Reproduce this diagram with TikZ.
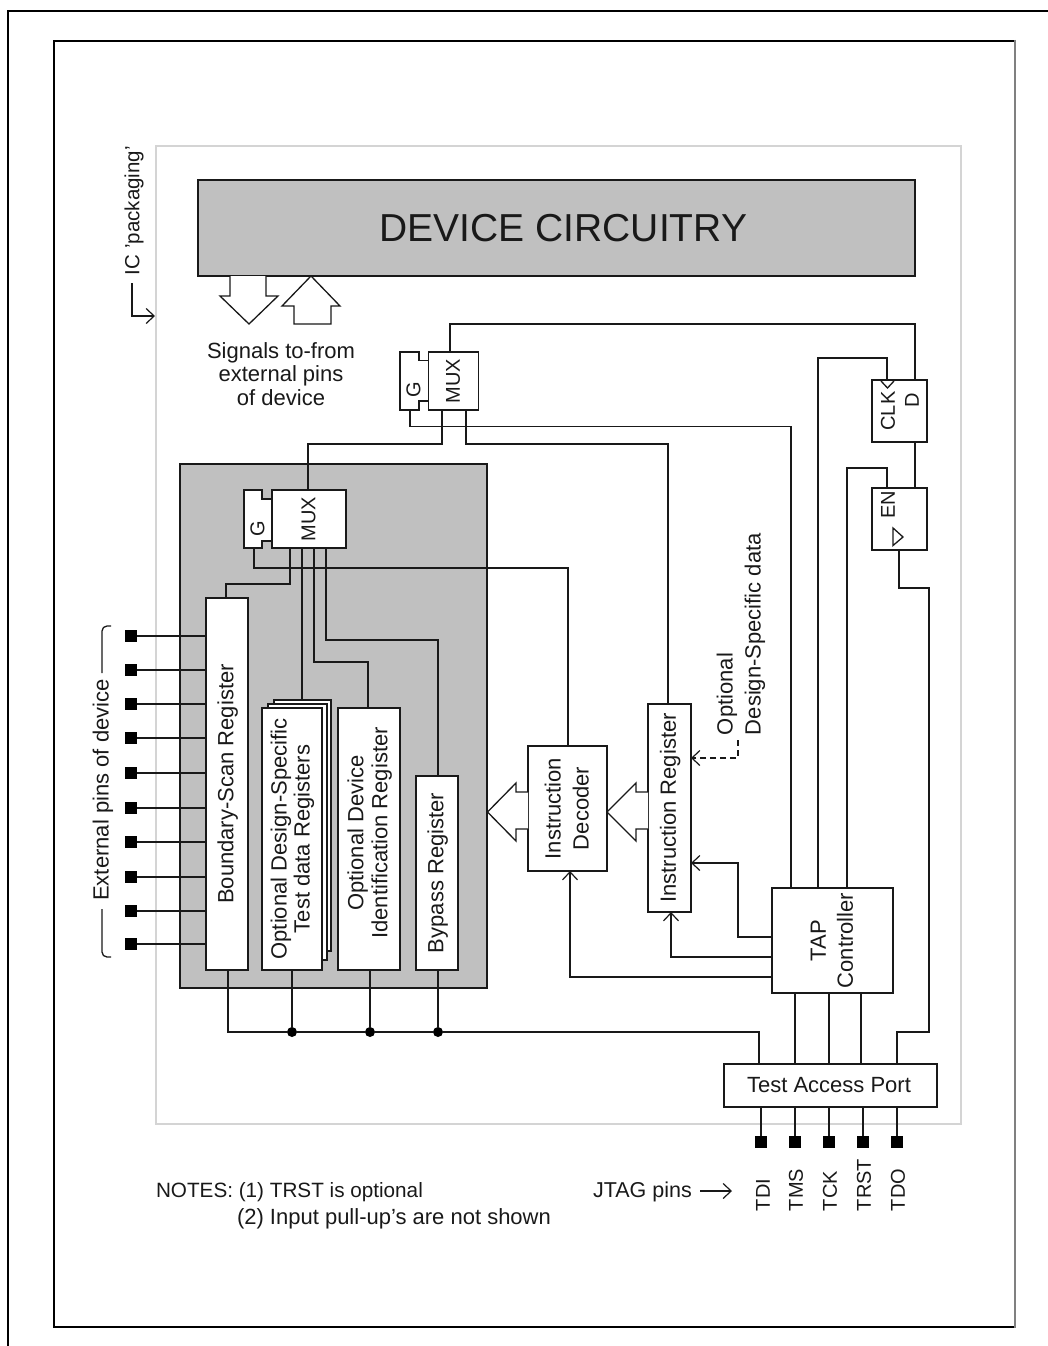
\documentclass[tikz,border=0pt]{standalone}
\usepackage{fontspec}
\usepackage{graphicx}
\setmainfont{Liberation Sans}
\usetikzlibrary{arrows.meta}
\definecolor{panelgray}{HTML}{C0C0C0}
\definecolor{pkggray}{HTML}{D4D4D4}
\definecolor{framegray}{HTML}{808080}
\newcommand{\rt}[2][1.0]{\hspace*{3pt}\rotatebox{90}{\def\arraystretch{#1}\begin{tabular}{@{}c@{}}#2\end{tabular}}}
\newcommand{\bx}[6]{\node[regbox,minimum width={#4-#2},minimum height={#5-#3}] (#1) at ({(#2+#4)/2},{(#3+#5)/2}) {#6};}
\newcommand{\capsize}{\fontsize{20}{24}\selectfont}
\tikzset{
  x=1pt,y=-1pt,
  every node/.style={font=\fontsize{22}{24}\selectfont,inner sep=0pt,outer sep=0pt,text=black!90},
  regbox/.style={draw=black!90,line width=1.8pt,fill=white,rectangle},
  wire/.style={draw=black!90,line width=1.8pt,line join=miter},
  dashwire/.style={wire,dash pattern=on 6pt off 4pt},
  openarrow/.style={-{Straight Barb[length=8pt,width=15pt,line width=1.2pt]}},
  blockarrow/.style={draw=black!90,line width=1.3pt,fill=white,line join=miter},
  outline/.style={draw=black!90,line width=1.8pt,fill=white,line join=miter},
  thinmark/.style={draw=black!90,line width=1.3pt,line join=miter},
  pinsq/.style={fill=black,rectangle,minimum size=12pt},
  dotn/.style={fill=black,circle,minimum size=10pt},
  vlabel/.style={rotate=90},
}
\begin{document}
\begin{tikzpicture}
\useasboundingbox (0,0) rectangle (1048,1346);
% frames
\draw[black,line width=2pt] (8,1346) -- (8,11) -- (1048,11);
\draw[black,line width=2pt] (1015,41) -- (54,41) -- (54,1327) -- (1015,1327);
\draw[framegray,line width=2pt] (1015,40) -- (1015,1328);
% package and panels
\draw[pkggray,line width=2pt] (156,146) rectangle (961,1124);
\node[draw=black!90,line width=1.8pt,fill=panelgray,rectangle,minimum width=717pt,minimum height=96pt,font=\fontsize{39}{44}\selectfont] (dev) at (556.5,228) {\hspace*{14pt}\raisebox{-1pt}{DEVICE CIRCUITRY}};
\node[draw=black!90,line width=1.8pt,fill=panelgray,rectangle,minimum width=307pt,minimum height=524pt] (core) at (333.5,726) {};
% block arrows at device
\draw[blockarrow] (230,276) -- (230,296) -- (220,296) -- (249,324) -- (278,296) -- (266,296) -- (266,276);
\draw[blockarrow] (311,276) -- (282,306) -- (294,306) -- (294,324) -- (331,324) -- (331,306) -- (340,306) -- cycle;
\node[align=center,font=\fontsize{22}{23.5}\selectfont] (sig) at (281,374) {Signals to-from\\external pins\\of device};
% IC packaging
\node[vlabel,anchor=west,font=\fontsize{20.5}{24}\selectfont] (icp) at (134,275) {IC 'packaging'};
\coordinate (icps) at (132,283);
\draw[thinmark,openarrow] (icps) -- (132,316) -- (155,316);
% boxes
\bx{mux1}{428.5}{352}{478.5}{410}{\capsize\rt{MUX}}
\bx{clk}{872}{380}{927}{442}{}
\bx{en}{872}{488}{927}{550}{}
\bx{mux2}{272}{490}{346}{548}{\capsize\rt{MUX}}
\bx{bsr}{206}{598}{248}{970}{\rt{Boundary-Scan Register}}
\bx{ds3}{274}{700}{331}{951}{}
\bx{ds2}{268}{704}{327}{960}{}
\bx{ds1}{262}{708}{322}{970}{\rt[0.96]{Optional Design-Specific\\Test data Registers}}
\bx{idr}{338}{708}{400}{970}{\hspace*{3pt}\rotatebox{90}{\hspace*{12pt}\begin{tabular}{@{}c@{}}Optional Device\\Identification Register\end{tabular}}}
\bx{byp}{416}{776}{458}{970}{\rt{Bypass Register}}
\bx{dec}{528}{746}{607}{871}{\rt[1.17]{Instruction\\Decoder}}
\bx{ir}{648}{704}{691}{912}{\rt{Instruction Register}}
\bx{tap}{772}{888}{893}{993}{\rt[1.12]{TAP\\Controller}}
\bx{port}{724}{1064}{937}{1107}{\hspace*{-3pt}\raisebox{-1pt}{Test Access Port}}
% G boxes
\draw[outline] (400,352) -- (419,352) -- (419,360.5) -- (428.5,360.5) -- (428.5,401) -- (419,401) -- (419,410) -- (400,410) -- cycle;
\draw[outline] (244,490) -- (262,490) -- (262,499) -- (272,499) -- (272,541) -- (262,541) -- (262,548) -- (244,548) -- cycle;
\node[vlabel,font=\capsize] (g1) at (413.5,390) {G};
\node[vlabel,font=\capsize] (g2) at (257.5,529) {G};
\coordinate (g1s) at (410,410);
\coordinate (g2s) at (254,548);
% flip-flop labels
\node[vlabel,font=\capsize] (clkt) at (888,411) {CLK};
\node[vlabel,font=\capsize] (dt) at (912,400) {D};
\node[vlabel,font=\capsize] (ent) at (888,505) {EN};
\draw[thinmark] (881,381) -- (887.5,388) -- (894,381);
\draw[thinmark] (893,528) -- (903,537) -- (893,545.5) -- cycle;
% connectors top
\draw[wire] (mux1.north -| 450,0) -- (450,324) -- (915,324) -- (clk.north -| 915,0);
\draw[wire] (g1s) -- (410,426.5) -- (791,426.5) -- (tap.north -| 791,0);
\draw[wire] (mux1.south -| 442,0) -- (442,444) -- (308,444) -- (mux2.north -| 308,0);
\draw[wire] (mux1.south -| 466,0) -- (466,444) -- (668,444) -- (ir.north -| 668,0);
\draw[wire] (g2s) -- (254,568) -- (568,568) -- (dec.north -| 568,0);
\draw[wire] (mux2.south -| 290,0) -- (290,584) -- (226,584) -- (bsr.north -| 226,0);
\draw[wire] (mux2.south -| 302,0) -- (ds3.north -| 302,0);
\draw[wire] (mux2.south -| 314,0) -- (314,662) -- (368,662) -- (idr.north -| 368,0);
\draw[wire] (mux2.south -| 326,0) -- (326,640) -- (438,640) -- (byp.north -| 438,0);
\draw[wire] (clk.south -| 915,0) -- (en.north -| 915,0);
\draw[wire] (tap.north -| 818,0) -- (818,358) -- (887,358) -- (clk.north -| 887,0);
\draw[wire] (tap.north -| 847,0) -- (847,468) -- (887,468) -- (en.north -| 887,0);
\draw[wire] (en.south -| 899,0) -- (899,588) -- (929,588) -- (929,1032) -- (897,1032) -- (port.north -| 897,0);
% register bottom bus
\node[dotn] (j1) at (292,1032) {};
\node[dotn] (j2) at (370,1032) {};
\node[dotn] (j3) at (438,1032) {};
\draw[wire] (bsr.south -| 228,0) -- (228,1032) -- (j1) -- (j2) -- (j3) -- (759,1032) -- (port.north -| 759,0);
\draw[wire] (ds1.south -| 292,0) -- (j1);
\draw[wire] (idr.south -| 370,0) -- (j2);
\draw[wire] (byp.south -| 438,0) -- (j3);
% TAP to port
\draw[wire] (tap.south -| 795,0) -- (port.north -| 795,0);
\draw[wire] (tap.south -| 829,0) -- (port.north -| 829,0);
\draw[wire] (tap.south -| 861,0) -- (port.north -| 861,0);
% TAP outputs
\draw[wire,openarrow] (tap.west |- 0,937) -- (738,937) -- (738,863) -- (ir.east |- 0,863);
\draw[wire,openarrow] (tap.west |- 0,957) -- (671,957) -- (ir.south -| 671,0);
\draw[wire,openarrow] (tap.west |- 0,977) -- (570,977) -- (dec.south -| 570,0);
% dashed input
\coordinate (dsrc) at (738,740);
\draw[dashwire,openarrow] (dsrc) -- (738,758) -- (ir.east |- 0,758);
\node[vlabel,anchor=west,align=left,font=\fontsize{22}{28}\selectfont] (optd) at (741,735) {Optional\\Design-Specific data};
% block arrows between registers
\draw[blockarrow] (dec.west |- 0,792) -- (516,792) -- (516,783) -- (487.5,812) -- (516,841) -- (516,829) -- (dec.west |- 0,829);
\draw[blockarrow] (ir.west |- 0,792) -- (636,792) -- (636,783) -- (607,812) -- (636,841) -- (636,829) -- (ir.west |- 0,829);
% external pins
\foreach \n/\y in {1/636,2/670,3/704,4/738,5/773,6/808,7/842,8/877,9/911,10/944}{
  \node[pinsq] (ep\n) at (131,\y) {};
  \draw[wire] (ep\n) -- (bsr.west |- ep\n);
}
\node[vlabel] (ext) at (103,790) {External pins of device};
\draw[thinmark,rounded corners=5pt] (102,673) -- (102,626) -- (111,626);
\draw[thinmark,rounded corners=5pt] (102,909) -- (102,957) -- (111,957);
% JTAG pins
\foreach \n/\x/\t/\px in {a/761/TDI/763,b/795/TMS/796,c/829/TCK/830,d/863/TRST/864,e/897/TDO/898}{
  \node[pinsq] (jp\n) at (\x,1142) {};
  \draw[wire] (port.south -| jp\n) -- (jp\n);
  \node[vlabel,anchor=west,font=\capsize] (jl\n) at (\px,1211) {\t};
}
\node[anchor=west,font=\fontsize{21.5}{24}\selectfont] (jt) at (593,1192) {JTAG pins};
\coordinate (jta) at (732,1191);
\draw[thinmark,openarrow] (700,1191) -- (jta);
\node[anchor=west,font=\fontsize{20.7}{24}\selectfont] (n1) at (156,1192) {NOTES: (1) TRST is optional};
\node[anchor=west] (n2) at (237,1219) {(2) Input pull-up's are not shown};
\end{tikzpicture}
\end{document}
